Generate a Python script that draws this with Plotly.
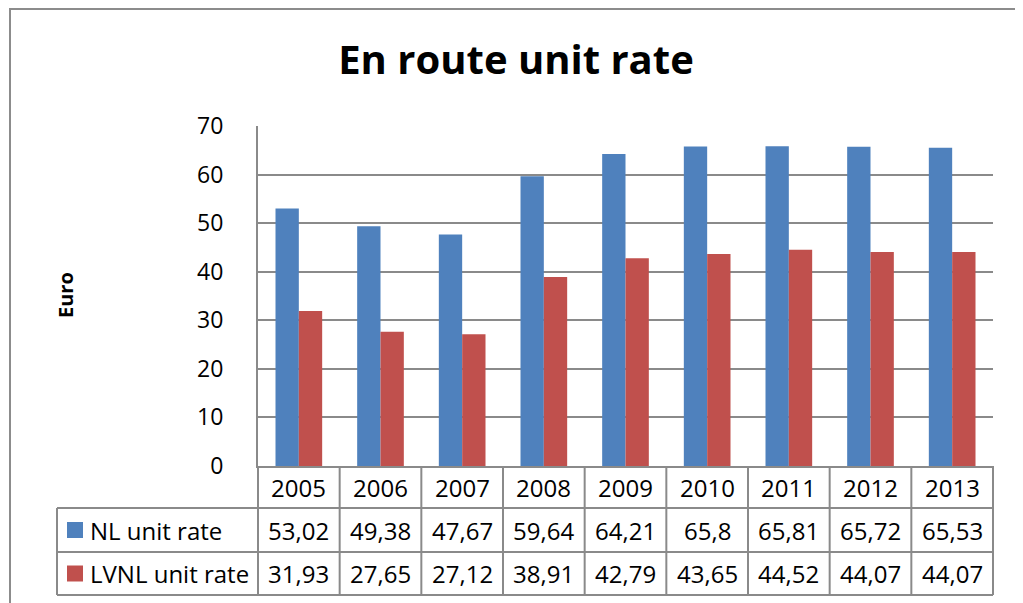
import plotly.graph_objects as go

years = ["2005", "2006", "2007", "2008", "2009", "2010", "2011", "2012", "2013"]
nl_rate = [53.02, 49.38, 47.67, 59.64, 64.21, 65.8, 65.81, 65.72, 65.53]
lvnl_rate = [31.93, 27.65, 27.12, 38.91, 42.79, 43.65, 44.52, 44.07, 44.07]
series_names = ["NL unit rate", "LVNL unit rate"]
y_ticks = [0, 10, 20, 30, 40, 50, 60, 70]

BLUE = "#4F81BD"
RED = "#C0504D"
GRID = "#8A8A8A"
FONT = "Open Sans"

OFF = 8  # page body margin
W, H = 1023 - OFF, 603 - OFF
L, R, T, B = 258, 993, 126, 466  # target page pixels
pw, ph = R - L, B - T


def px_x(p):
    return (p - L) / pw


def px_y(p):
    return (B - p) / ph


fig = go.Figure()
fig.add_bar(x=years, y=nl_rate, name=series_names[0], marker_color=BLUE, marker_line_width=0)
fig.add_bar(x=years, y=lvnl_rate, name=series_names[1], marker_color=RED, marker_line_width=0)

shapes = []
annotations = []

row_lines = [508, 552, 595]
for yy in row_lines:
    shapes.append(dict(type="line", xref="paper", yref="paper", x0=px_x(57), x1=1.0,
                       y0=px_y(yy), y1=px_y(yy), line=dict(color=GRID, width=2)))
n = len(years)
for i in range(n + 1):
    shapes.append(dict(type="line", xref="paper", yref="paper", x0=i / n, x1=i / n,
                       y0=0, y1=px_y(595), line=dict(color=GRID, width=2)))
shapes.append(dict(type="line", xref="paper", yref="paper", x0=px_x(57), x1=px_x(57),
                   y0=px_y(508), y1=px_y(595), line=dict(color=GRID, width=2)))

# outer frame
shapes.append(dict(type="line", xref="paper", yref="paper", x0=px_x(9), x1=px_x(1023),
                   y0=px_y(9), y1=px_y(9), line=dict(color="#8C8C8C", width=2)))
shapes.append(dict(type="line", xref="paper", yref="paper", x0=px_x(10), x1=px_x(10),
                   y0=px_y(9), y1=px_y(603), line=dict(color="#8C8C8C", width=2)))

tfont = dict(family=FONT, size=24, color="black")
row_centers = [487, 530, 573.5]
for i, yr in enumerate(years):
    xc = (i + 0.5) / n
    annotations.append(dict(x=xc, y=px_y(row_centers[0]), xref="paper", yref="paper", text=yr,
                            showarrow=False, font=tfont, xanchor="center", yanchor="middle"))
    annotations.append(dict(x=xc, y=px_y(row_centers[1]), xref="paper", yref="paper",
                            text=str(nl_rate[i]).replace(".", ","),
                            showarrow=False, font=tfont, xanchor="center", yanchor="middle"))
    annotations.append(dict(x=xc, y=px_y(row_centers[2]), xref="paper", yref="paper",
                            text=str(lvnl_rate[i]).replace(".", ","),
                            showarrow=False, font=tfont, xanchor="center", yanchor="middle"))

for name, col, yc in [(series_names[0], BLUE, row_centers[1]), (series_names[1], RED, row_centers[2])]:
    shapes.append(dict(type="rect", xref="paper", yref="paper", x0=px_x(67), x1=px_x(83),
                       y0=px_y(yc - 8), y1=px_y(yc + 8), fillcolor=col, line=dict(width=0)))
    annotations.append(dict(x=px_x(88), y=px_y(yc), xref="paper", yref="paper", text=name,
                            showarrow=False, font=tfont, xanchor="left", yanchor="middle"))

annotations.append(dict(x=px_x(65), y=px_y(295), xref="paper", yref="paper", text="<b>Euro</b>",
                        textangle=-90, showarrow=False, font=dict(family=FONT, size=20, color="black"),
                        xanchor="center", yanchor="middle"))

fig.update_layout(
    width=W, height=H,
    margin=dict(l=L - OFF, r=W - (R - OFF), t=T - OFF, b=H - (B - OFF), pad=0),
    paper_bgcolor="white", plot_bgcolor="white",
    barmode="group", bargap=1.5 / 3.5, bargroupgap=0,
    showlegend=False,
    title=dict(text="<b>En route unit rate</b>", xref="container", yref="container",
               x=(516 - OFF) / W, y=1 - (60 - OFF) / H, xanchor="center", yanchor="middle",
               font=dict(family=FONT, size=40, color="black")),
    xaxis=dict(type="category", range=[-0.5, n - 0.5], showticklabels=False, showgrid=False,
               showline=True, linecolor=GRID, linewidth=2, ticks="", zeroline=False),
    yaxis=dict(range=[0, 70], tickvals=y_ticks, showgrid=True, gridcolor=GRID, gridwidth=1.5,
               showline=True, linecolor=GRID, linewidth=2, ticks="", zeroline=False,
               ticklabelstandoff=28, tickfont=dict(family=FONT, size=23, color="black")),
    shapes=shapes, annotations=annotations,
)

fig.write_html("out.html")
